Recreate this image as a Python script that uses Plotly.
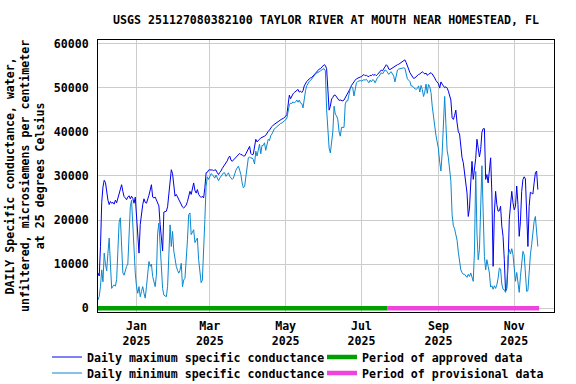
import pandas as pd
import plotly.graph_objects as go

start_date = "2024-12-01"

max_cond = [
    8000, 7300, 14000, 24000, 27500, 29000, 28500, 26000, 24500, 23500,
    24200, 23800, 24000, 23600, 24500, 23900, 24800, 25800, 27000, 28000,
    26500, 25300, 25000, 24600, 25200, 25500, 24800, 25400, 24900, 23800,
    25200, 21000, 14500, 12500, 19000, 21500, 23500, 24800, 24000, 23800,
    24600, 25600, 26800, 28000, 25200, 25000, 25200, 24600, 23800, 23200,
    19000, 15500, 13000, 21800, 21900, 22000, 23000, 26000, 29500, 31400,
    30500, 27500, 25400, 25800, 25200, 24600, 24100, 23700, 22950, 22700,
    22950, 23400, 24200, 25400, 26500, 25800, 27300, 28400, 26700, 26100,
    26900, 25800, 25400, 25100, 25400, 25000, 27300, 30700, 30800, 31300,
    31400, 31300, 31400, 31100, 31400, 31300, 30700, 30300, 30800, 31100,
    31700, 32100, 32500, 32900, 33400, 34100, 34500, 33600, 33300, 33600,
    33900, 34200, 34500, 34800, 35100, 34800, 34800, 34500, 34500, 35000,
    35600, 36400, 36700, 35100, 34800, 34900, 36700, 38300, 37700, 37900,
    38300, 38600, 38700, 38900, 39000, 39200, 39800, 40100, 40400, 40900,
    41200, 41500, 41700, 42000, 42300, 42500, 42700, 42800, 42900, 43000,
    43200, 43500, 43900, 46600, 48300, 47500, 48100, 48600, 48900, 49200,
    49500, 49600, 49000, 49200, 48900, 49300, 50400, 51100, 51400, 51700,
    52000, 52200, 52300, 52600, 53000, 53400, 53600, 53900, 54200, 54300,
    54700, 54900, 55200, 55000, 54300, 49600, 44900, 45800, 47400, 47800,
    48300, 48300, 47900, 47300, 47100, 47200, 47000, 47000, 47200, 47700,
    48000, 48600, 49200, 49800, 50500, 51000, 51400, 51700, 52000, 52200,
    52300, 52400, 52500, 52700, 53000, 52700, 52800, 52600, 52500, 52800,
    52700, 53000, 52800, 53000, 52700, 53000, 53400, 53700, 54000, 53800,
    54400, 54700, 55200, 54900, 54200, 54100, 54300, 54500, 54800, 54900,
    55100, 55200, 55300, 55500, 55500, 55800, 56100, 56300, 55700, 55100,
    54200, 53400, 52900, 52400, 52100, 52200, 52500, 52700, 53000, 53100,
    53400, 53600, 53400, 53100, 53300, 52800, 53000, 53300, 53400, 53100,
    52700, 52200, 51600, 51100, 50900, 49900, 51300, 50800, 50500, 50000,
    50200, 49900, 49200, 48300, 47200, 43200, 42800, 43700, 44900, 42000,
    40000, 39500, 36100, 34100, 33000, 30500, 28600, 26100, 20800, 22700,
    28400, 33300, 29200, 31100, 34000, 38300, 36700, 34300, 36000, 39900,
    40700, 40700, 29200, 30300, 28400, 30700, 34100, 26100, 9500, 21600,
    26500, 23500, 22000, 22100, 23100, 18600, 16300, 11000, 3800, 4500,
    9500, 20100, 22700, 26500, 23900, 22300, 23100, 27700, 23500, 16300,
    19700, 26500, 29200, 29800, 29300, 21600, 14000, 23100, 26300, 26100,
    25900, 28400, 30700, 31100, 26900,
]

min_cond = [
    1900, 2700, 5000, 8700, 6000, 12500, 10000, 8500, 12500, 15900,
    10000, 4500, 5000, 5300, 5000, 6500, 13000, 19500, 20500, 14000,
    8000, 7500, 8800, 9500, 10000, 16000, 23000, 24500, 18500, 13000,
    8000, 4900, 3400, 4900, 2600, 3800, 4900, 3400, 2300, 4900,
    8000, 10600, 9500, 10000, 7200, 5700, 4900, 7500, 17000, 19300,
    14000, 8000, 4500, 3000, 2700, 2600, 4900, 13500, 18900, 14000,
    17400, 13000, 10500, 9500, 8600, 7950, 8600, 10200, 4900, 6400,
    6800, 10200, 15500, 21200, 21600, 16700, 17400, 17800, 14900, 15500,
    15900, 11000, 7950, 5800, 6400, 11700, 20100, 27600, 29800, 29200,
    29900, 30500, 30300, 29900, 29500, 30200, 29500, 28900, 29500, 29900,
    30300, 30700, 30700, 29900, 30300, 30700, 29900, 29500, 29200, 29500,
    30700, 31300, 31800, 32200, 31300, 30300, 28400, 27300, 27600, 29900,
    33000, 34100, 34300, 34000, 34100, 33700, 32700, 35600, 34500, 35900,
    37200, 35000, 36900, 36900, 37500, 35800, 36800, 38300, 38000, 39100,
    39500, 40200, 40700, 40900, 41200, 41400, 41700, 41900, 42000, 42200,
    42400, 42700, 43100, 44800, 46100, 46500, 46400, 46800, 46500, 46800,
    47200, 46700, 47200, 46500, 46400, 45400, 47800, 49300, 50400, 51000,
    51400, 51600, 52000, 52300, 52700, 53100, 53300, 53400, 53600, 53800,
    54100, 54200, 54300, 53800, 45000, 39000, 36300, 35200, 37700, 40000,
    45800, 44000, 43600, 42800, 40000, 39000, 41000, 41000, 41000, 46300,
    47000, 47000, 48300, 49800, 50200, 50000, 48100, 50000, 51100, 51400,
    51500, 51600, 51500, 51600, 51800, 51700, 51900, 51500, 51100, 51700,
    51300, 51800, 51700, 51100, 51900, 52300, 52500, 53000, 53400, 53100,
    53600, 54000, 53900, 53400, 53000, 53400, 53600, 53100, 52600, 51300,
    53100, 54000, 54200, 54300, 54300, 54400, 54500, 54400, 53400, 52000,
    51700, 51400, 50400, 50400, 50000, 49800, 49600, 49800, 50400, 49000,
    50500, 49600, 48000, 49000, 50800, 48700, 50700, 50200, 48900, 45800,
    43000, 41300, 39200, 37700, 36100, 33100, 31100, 35200, 43600, 48000,
    41700, 35800, 34100, 31800, 28800, 21200, 18700, 18000, 17000, 15400,
    12700, 10100, 8700, 8100, 7700, 7700, 7400, 7000, 7700, 7200,
    8000, 7000, 6100, 13000, 31000, 17000, 11000, 13300, 24000, 32300,
    21600, 11700, 8700, 11000, 9500, 8000, 4800, 5100, 4300, 5100,
    4500, 5300, 6800, 9100, 8900, 5500, 4300, 4200, 3600, 5300,
    11700, 13300, 12300, 13500, 12100, 9100, 6100, 8100, 4900, 3600,
    7200, 9800, 12900, 12100, 7600, 3800, 4000, 9100, 12100, 14400,
    17800, 19700, 20800, 17800, 14000,
]

approved_period = ["2024-12-01", "2025-07-22"]
provisional_period = ["2025-07-22", "2025-11-21"]

x_tick_dates = ["2025-01-01", "2025-03-01", "2025-05-01", "2025-07-01", "2025-09-01", "2025-11-01"]
x_tick_labels = ["Jan<br>2025", "Mar<br>2025", "May<br>2025", "Jul<br>2025", "Sep<br>2025", "Nov<br>2025"]
y_tick_vals = [0, 10000, 20000, 30000, 40000, 50000, 60000]
y_tick_labels = ["0", "10000", "20000", "30000", "40000", "50000", "60000"]
y_title = "DAILY Specific conductance, water,<br>unfiltered, microsiemens per centimeter<br>at 25 degrees Celsius"
main_title = "USGS 251127080382100 TAYLOR RIVER AT MOUTH NEAR HOMESTEAD, FL"

dates = pd.date_range(start_date, periods=len(max_cond), freq="D")

FONT = "DejaVu Sans Mono"
FS = 11.6
MAX_COLOR = "#0000EE"
MIN_COLOR = "#0A88D0"
APPROVED_COLOR = "#00A000"
PROV_COLOR = "#EE44DD"

fig = go.Figure()
fig.add_trace(go.Scatter(x=dates, y=max_cond, mode="lines", name="Daily maximum specific conductance",
                         line=dict(color=MAX_COLOR, width=1), legend="legend"))
fig.add_trace(go.Scatter(x=dates, y=min_cond, mode="lines", name="Daily minimum specific conductance",
                         line=dict(color=MIN_COLOR, width=1), legend="legend2"))
fig.add_trace(go.Scatter(x=approved_period, y=[0, 0], mode="lines", name="Period of approved data",
                         line=dict(color=APPROVED_COLOR, width=4.5), legend="legend3"))
fig.add_trace(go.Scatter(x=provisional_period, y=[0, 0], mode="lines", name="Period of provisional data",
                         line=dict(color=PROV_COLOR, width=4.5), legend="legend4"))

L, R, T, B = 98, 22, 40, 72
W, H = 576, 384
PW = W - L - R

bold_font = dict(family=FONT, size=FS, color="black", weight="bold")


def leg(x, y):
    return dict(xref="container", yref="container", x=x / W, y=1 - y / H,
                xanchor="left", yanchor="middle", font=bold_font,
                bgcolor="rgba(0,0,0,0)", itemwidth=30, borderwidth=0)


fig.update_layout(
    width=W, height=H,
    margin=dict(l=L, r=R, t=T, b=B, autoexpand=False),
    paper_bgcolor="white", plot_bgcolor="white",
    title=dict(text=main_title,
               xref="paper", x=0.5, xanchor="center",
               yref="container", y=1 - 20 / H, yanchor="middle",
               font=bold_font),
    showlegend=True,
    legend=leg(47, 357),
    legend2=leg(47, 373),
    legend3=leg(322, 357),
    legend4=leg(322, 373),
    font=dict(family=FONT, size=FS, color="black"),
    annotations=[dict(text=y_title, textangle=-90, xref="paper", yref="paper",
                      x=(25 - L) / PW, y=0.5, xanchor="center", yanchor="middle",
                      showarrow=False, font=bold_font, align="center")],
)

fig.update_xaxes(
    type="date",
    range=["2024-12-01", "2025-12-03"],
    tickvals=x_tick_dates, ticktext=x_tick_labels,
    showgrid=True, gridcolor="#CCCCCC", gridwidth=1,
    showline=True, linecolor="black", linewidth=1, mirror=True,
    ticks="", ticklabelstandoff=3, tickfont=bold_font,
    zeroline=False,
)
fig.update_yaxes(
    range=[-850, 60800],
    tickvals=y_tick_vals, ticktext=y_tick_labels,
    showgrid=True, gridcolor="#CCCCCC", gridwidth=1,
    showline=True, linecolor="black", linewidth=1, mirror=True,
    ticks="", ticklabelstandoff=6,
    tickfont=bold_font,
    zeroline=False,
)

fig.write_html("out.html", config={"displayModeBar": False},
               post_script="document.body.style.margin='0';document.body.style.padding='0';")
